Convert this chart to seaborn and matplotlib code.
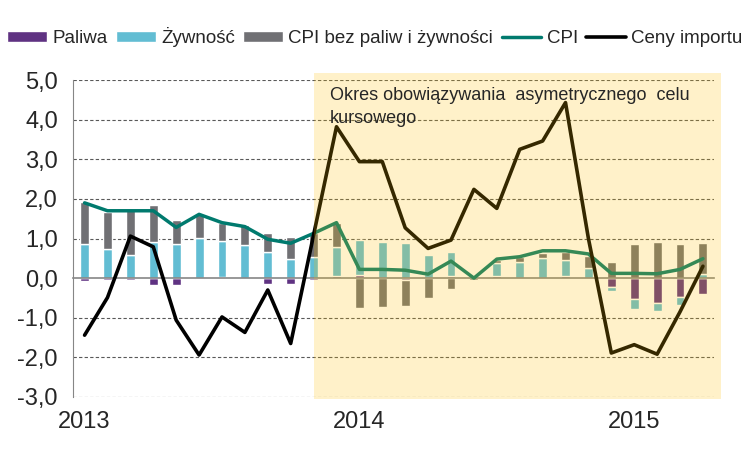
import matplotlib
matplotlib.use("Agg")
import matplotlib.pyplot as plt
import numpy as np
import seaborn as sns
from matplotlib.patches import Rectangle
from matplotlib.ticker import FuncFormatter

# monthly data Jan 2013 - Apr 2015
months = ['2013-01', '2013-02', '2013-03', '2013-04', '2013-05', '2013-06', '2013-07',
          '2013-08', '2013-09', '2013-10', '2013-11', '2013-12', '2014-01', '2014-02',
          '2014-03', '2014-04', '2014-05', '2014-06', '2014-07', '2014-08', '2014-09',
          '2014-10', '2014-11', '2014-12', '2015-01', '2015-02', '2015-03', '2015-04']
paliwa = [-0.07, -0.05, -0.06, -0.17, -0.17, -0.03, 0.02, -0.03, -0.14, -0.16, -0.05, 0.05,
          0.08, 0.00, -0.05, 0.00, 0.05, 0.00, 0.05, 0.00, 0.00, 0.05, 0.00, -0.22,
          -0.53, -0.63, -0.48, -0.40]
zywnosc = [0.86, 0.73, 0.58, 0.91, 0.86, 1.01, 0.91, 0.83, 0.66, 0.48, 0.54, 0.74,
           0.88, 0.91, 0.88, 0.58, 0.61, 0.03, 0.34, 0.41, 0.51, 0.40, 0.25, -0.11,
           -0.25, -0.20, -0.20, 0.11]
bazowa = [1.07, 0.94, 1.14, 0.93, 0.60, 0.62, 0.47, 0.51, 0.48, 0.57, 0.60, 0.61,
          -0.75, -0.72, -0.65, -0.50, -0.27, -0.04, 0.06, 0.12, 0.13, 0.21, 0.31, 0.40,
          0.86, 0.91, 0.86, 0.77]
cpi = [1.90, 1.70, 1.70, 1.70, 1.28, 1.61, 1.40, 1.30, 0.98, 0.88, 1.13, 1.40,
       0.22, 0.22, 0.20, 0.10, 0.43, 0.00, 0.48, 0.54, 0.69, 0.69, 0.61, 0.12,
       0.12, 0.11, 0.22, 0.49]
ceny_importu = [-1.44, -0.49, 1.06, 0.79, -1.06, -1.94, -0.98, -1.37, -0.30, -1.65, 1.09, 3.82,
                2.94, 2.94, 1.27, 0.75, 0.96, 2.24, 1.76, 3.25, 3.46, 4.43, 1.00, -1.89,
                -1.68, -1.92, -0.85, 0.30]
year_labels = ['2013', '2014', '2015']
year_pos = [0, 12, 24]
shade_start = 10  # start of the asymmetric exchange-rate target period

sns.set_style('white')
plt.rcParams['font.family'] = ['Liberation Sans', 'DejaVu Sans']

c_fuel, c_food, c_core = '#5F3282', '#62BDD3', '#707074'
c_cpi, c_imp = '#007A6E', '#000000'
grey = '#868686'

fig = plt.figure(figsize=(7.5, 4.5), dpi=100)
ax = fig.add_axes([0.0975, 0.1178, 0.855, 0.7044])

x = np.arange(len(months))
pos_base = np.zeros(len(months))
neg_base = np.zeros(len(months))
handles = []
for vals, col, lab in [(paliwa, c_fuel, 'Paliwa'), (zywnosc, c_food, 'Żywność'),
                       (bazowa, c_core, 'CPI bez paliw i żywności')]:
    v = np.array(vals)
    bottom = np.where(v >= 0, pos_base, neg_base)
    bars = ax.bar(x, v, bottom=bottom, width=0.39, color=col, zorder=2, label=lab)
    handles.append(bars)
    pos_base = pos_base + np.where(v >= 0, v, 0)
    neg_base = neg_base + np.where(v < 0, v, 0)

sns.lineplot(x=x, y=cpi, ax=ax, color=c_cpi, lw=2.5, zorder=3, label='CPI', legend=False)
sns.lineplot(x=x, y=ceny_importu, ax=ax, color=c_imp, lw=2.6, zorder=3.5,
             label='Ceny importu', legend=False)
handles += ax.get_lines()[-2:]

ax.set_xlim(-0.5, len(months) - 0.5)
ax.set_ylim(-3, 5)
for yv in range(-3, 6):
    if yv != 0:
        ax.axhline(yv, color='#595959', lw=0.8, ls=(0, (3, 2)), zorder=0.5)

for s in ['top', 'right']:
    ax.spines[s].set_visible(False)
ax.spines['left'].set_color(grey)
ax.spines['bottom'].set_position(('data', 0))
ax.spines['bottom'].set_color(grey)
ax.spines['bottom'].set_linewidth(1.2)
ax.spines['bottom'].set_zorder(2.5)

ax.set_xticks(np.arange(0.5, len(months), 1))
ax.tick_params(axis='x', length=5, color=grey, labelbottom=False, direction='out')
ax.set_yticks(range(-3, 6))
ax.yaxis.set_major_formatter(FuncFormatter(lambda v, p: f"{v:.1f}".replace('.', ',')))
ax.tick_params(axis='y', length=5, color=grey, pad=6, labelsize=17)

sec = ax.secondary_xaxis('bottom')
sec.set_xticks(year_pos, labels=year_labels)
sec.tick_params(length=0, pad=10, labelsize=17)
sec.spines['bottom'].set_visible(False)

# translucent yellow band over the period
ax.add_patch(Rectangle((shade_start, -3.06), len(months) - 0.2 - shade_start, 8.24,
                       facecolor='#FFC100', alpha=0.21, edgecolor='none',
                       zorder=4, clip_on=False))
ax.text(shade_start + 0.7, 4.32, 'Okres obowiązywania  asymetrycznego  celu\nkursowego',
        fontsize=13, va='center', ha='left', linespacing=1.5, zorder=5)

fig.legend(handles, [h.get_label() for h in handles], loc='center', ncol=5,
           bbox_to_anchor=(0.5, 0.918), frameon=False, fontsize=13.5,
           handlelength=2.1, handleheight=0.55, handletextpad=0.3, columnspacing=0.45)

fig.savefig('out.png', dpi=100)
